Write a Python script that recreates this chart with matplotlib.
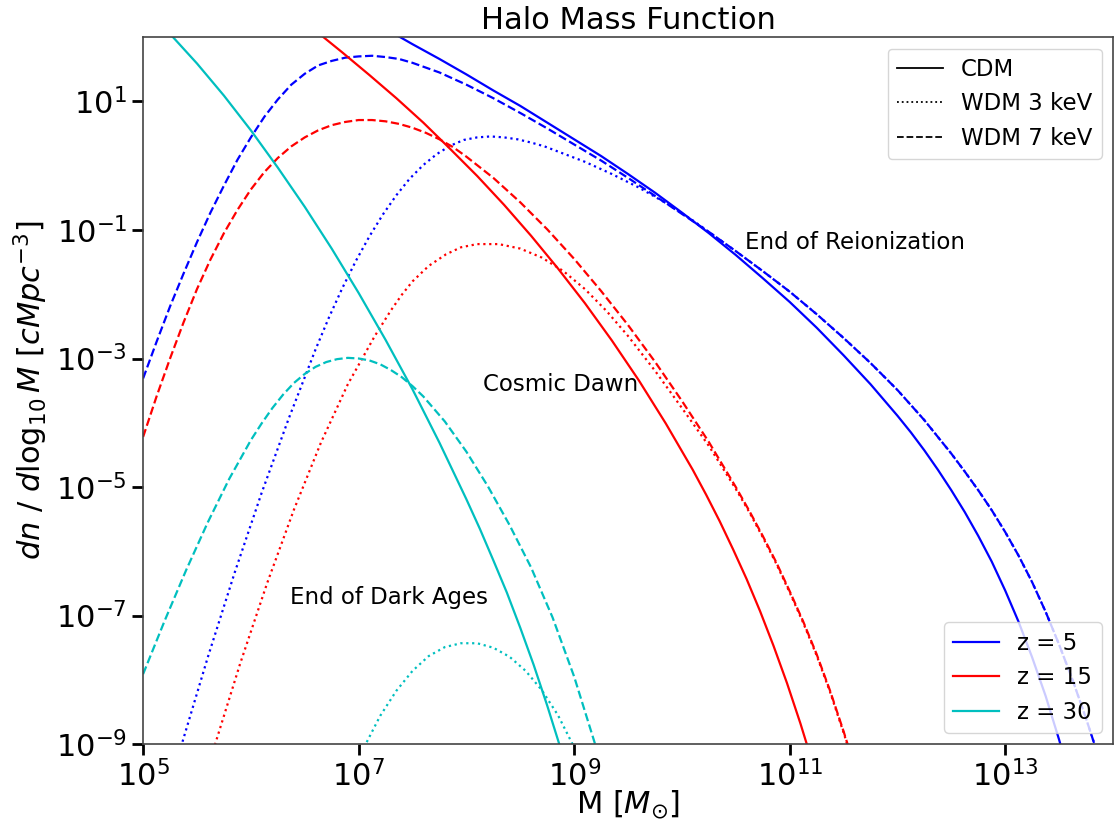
import numpy as np
import matplotlib
matplotlib.use('Agg')
import matplotlib.pyplot as plt
from matplotlib.lines import Line2D

# halo mass function, log10(M / Msun) vs log10(dn/dlog10M / cMpc^-3)

# z = 5
cdm_z5_m = [7.25, 7.5, 7.75, 8.0, 8.25, 8.5, 8.75, 9.0, 9.25, 9.5, 9.75, 10.0, 10.25, 10.5, 10.75,
            11.0, 11.25, 11.5, 11.75, 12.0, 12.125, 12.25, 12.375, 12.5, 12.625, 12.75, 12.875,
            13.0, 13.125, 13.25, 13.375, 13.5, 13.625]
cdm_z5_n = [2.13, 1.89, 1.66, 1.42, 1.17, 0.93, 0.67, 0.41, 0.15, -0.13, -0.42, -0.73, -1.05, -1.39, -1.75,
            -2.12, -2.52, -2.95, -3.40, -3.89, -4.15, -4.43, -4.73, -5.05, -5.39, -5.76, -6.16,
            -6.61, -7.10, -7.65, -8.25, -8.93, -9.67]

w7_z5_m = [5.0, 5.125, 5.25, 5.375, 5.5, 5.625, 5.75, 5.875, 6.0, 6.125, 6.25, 6.375, 6.5, 6.625, 6.75, 6.875,
           7.0, 7.125, 7.25, 7.375, 7.5, 7.75, 8.0, 8.25, 8.5, 8.75, 9.0, 9.25, 9.5, 9.75, 10.0, 10.25, 10.5,
           10.75, 11.0, 11.25, 11.5, 11.75, 12.0, 12.25, 12.5, 12.625, 12.75, 12.875, 13.0, 13.125, 13.25,
           13.375, 13.5, 13.625, 13.75, 13.875]
w7_z5_n = [-3.31, -2.74, -2.19, -1.68, -1.19, -0.73, -0.31, 0.09, 0.44, 0.76, 1.03, 1.26, 1.43, 1.56, 1.63, 1.68,
           1.70, 1.71, 1.69, 1.66, 1.60, 1.45, 1.26, 1.05, 0.82, 0.58, 0.33, 0.08, -0.19, -0.47, -0.75, -1.03, -1.33,
           -1.64, -1.96, -2.31, -2.68, -3.07, -3.49, -3.96, -4.48, -4.76, -5.05, -5.36, -5.70, -6.07, -6.48,
           -6.94, -7.45, -8.00, -8.60, -9.24]

w3_z5_m = [5.35, 5.6, 5.85, 6.1, 6.35, 6.6, 6.725, 6.85, 6.975, 7.1, 7.225, 7.35, 7.475, 7.6, 7.725, 7.85,
           7.975, 8.1, 8.225, 8.35, 8.475, 8.6, 8.725, 8.85, 9.1, 9.35, 9.6, 9.85, 10.1,
           10.25, 10.5, 10.75, 11.0, 11.25, 11.5, 11.75, 12.0, 12.25, 12.5, 12.625, 12.75, 12.875, 13.0,
           13.125, 13.25, 13.375, 13.5, 13.625, 13.75, 13.875]
w3_z5_n = [-9.05, -7.65, -6.33, -5.09, -3.94, -2.86, -2.36, -1.90, -1.48, -1.10, -0.76, -0.46, -0.20, 0.01, 0.18, 0.31,
           0.40, 0.44, 0.455, 0.44, 0.41, 0.36, 0.30, 0.22, 0.06, -0.13, -0.34, -0.58, -0.85,
           -1.03, -1.33, -1.64, -1.96, -2.31, -2.68, -3.07, -3.49, -3.96, -4.48, -4.76, -5.05, -5.36, -5.70,
           -6.07, -6.48, -6.94, -7.45, -8.00, -8.60, -9.24]

# z = 15
cdm_z15_m = [6.6, 6.85, 7.1, 7.35, 7.6, 7.85, 8.1, 8.35, 8.6, 8.85, 9.1, 9.35, 9.6, 9.85, 10.1,
             10.225, 10.35, 10.475, 10.6, 10.725, 10.85, 10.975, 11.1, 11.225, 11.35]
cdm_z15_n = [2.10, 1.76, 1.41, 1.05, 0.67, 0.26, -0.16, -0.61, -1.09, -1.60, -2.14, -2.72, -3.34, -4.01, -4.73,
             -5.12, -5.53, -5.97, -6.43, -6.93, -7.47, -8.05, -8.68, -9.36, -10.08]

w7_z15_m = [5.0, 5.125, 5.25, 5.375, 5.5, 5.625, 5.75, 5.875, 6.0, 6.125, 6.25, 6.375, 6.5, 6.625, 6.75, 6.875,
            7.0, 7.125, 7.25, 7.375, 7.5, 7.625, 7.75, 7.875, 8.0, 8.25, 8.5, 8.75, 9.0, 9.25, 9.5, 9.75,
            10.0, 10.25, 10.5, 10.625, 10.75, 10.875, 11.0, 11.125, 11.25, 11.375, 11.5, 11.625, 11.75]
w7_z15_n = [-4.22, -3.59, -3.00, -2.44, -1.92, -1.46, -1.05, -0.69, -0.37, -0.10, 0.12, 0.30, 0.44, 0.55, 0.63, 0.68,
            0.71, 0.71, 0.69, 0.65, 0.59, 0.51, 0.41, 0.29, 0.14, -0.19, -0.57, -0.99, -1.45, -1.95, -2.48, -3.05,
            -3.66, -4.30, -5.00, -5.37, -5.76, -6.17, -6.62, -7.09, -7.60, -8.17, -8.80, -9.47, -10.2]

w3_z15_m = [5.65, 5.9, 6.15, 6.4, 6.65, 6.9, 7.15, 7.3, 7.4, 7.5, 7.65, 7.81, 7.95, 8.1, 8.3, 8.5, 8.7, 8.9,
            9.1, 9.3, 9.5, 9.75, 10.0, 10.25, 10.5, 10.625, 10.75, 10.875, 11.0, 11.125, 11.25, 11.375,
            11.5, 11.625, 11.75]
w3_z15_n = [-9.1, -7.75, -6.50, -5.35, -4.31, -3.40, -2.65, -2.25, -2.01, -1.80, -1.56, -1.38, -1.27, -1.22, -1.22, -1.29, -1.43, -1.64,
            -1.92, -2.26, -2.65, -3.19, -3.77, -4.36, -5.03, -5.39, -5.78, -6.19, -6.64, -7.11, -7.62, -8.19,
            -8.82, -9.49, -10.22]

# z = 30
cdm_z30_m = [5.25, 5.5, 5.75, 6.0, 6.25, 6.5, 6.75, 7.0, 7.25, 7.5, 7.75, 8.0, 8.125, 8.25, 8.375, 8.5,
             8.625, 8.75, 8.875, 9.0]
cdm_z30_n = [2.05, 1.59, 1.09, 0.55, -0.03, -0.64, -1.29, -1.98, -2.71, -3.48, -4.31, -5.19, -5.65, -6.14, -6.64, -7.19,
             -7.77, -8.40, -9.07, -9.80]

w7_z30_m = [5.0, 5.2, 5.4, 5.6, 5.8, 6.0, 6.1, 6.2, 6.3, 6.4, 6.5, 6.6, 6.7, 6.8, 6.9, 7.0, 7.1, 7.2, 7.3,
            7.4, 7.5, 7.6, 7.8, 8.0, 8.2, 8.4, 8.6, 8.8, 9.0, 9.2, 9.3]
w7_z30_n = [-7.91, -7.08, -6.29, -5.55, -4.87, -4.27, -4.01, -3.77, -3.56, -3.38, -3.24, -3.13, -3.055, -3.01, -2.99, -3.00, -3.03, -3.09, -3.18,
            -3.29, -3.43, -3.59, -3.98, -4.45, -4.99, -5.59, -6.25, -7.03, -7.95, -9.03, -9.6]

w3_z30_m = [7.05, 7.2, 7.35, 7.5, 7.65, 7.8, 7.95, 8.1, 8.25, 8.4, 8.55, 8.7, 8.85, 9.0]
w3_z30_n = [-9.05, -8.56, -8.17, -7.86, -7.63, -7.49, -7.43, -7.43, -7.50, -7.64, -7.86, -8.16, -8.55, -9.05]

redshifts = [5, 15, 30]
colors = ['b', 'r', 'c']
models = ['CDM', 'WDM 3 keV', 'WDM 7 keV']
styles = ['-', ':', '--']

curves = {
    5: [(cdm_z5_m, cdm_z5_n), (w3_z5_m, w3_z5_n), (w7_z5_m, w7_z5_n)],
    15: [(cdm_z15_m, cdm_z15_n), (w3_z15_m, w3_z15_n), (w7_z15_m, w7_z15_n)],
    30: [(cdm_z30_m, cdm_z30_n), (w3_z30_m, w3_z30_n), (w7_z30_m, w7_z30_n)],
}

xticks = [1e5, 1e7, 1e9, 1e11, 1e13]
yticks = [1e-9, 1e-7, 1e-5, 1e-3, 1e-1, 1e1]

fig, ax = plt.subplots(figsize=(11.18, 8.25), dpi=100)
fig.subplots_adjust(left=0.128, right=0.9955, bottom=0.098, top=0.955)

for z, c in zip(redshifts, colors):
    for (m, n), ls in zip(curves[z], styles):
        ax.plot(10**np.array(m), 10**np.array(n), color=c, ls=ls, lw=1.6)

ax.set_xscale('log')
ax.set_yscale('log')
ax.set_xlim(1e5, 1e14)
ax.set_ylim(1e-9, 1e2)
ax.set_xticks(xticks)
ax.set_yticks(yticks)
ax.minorticks_off()
ax.tick_params(labelsize=22, length=8, width=2)
for s in ax.spines.values():
    s.set_color('#444444')
    s.set_linewidth(1.2)

ax.text(10**10.59, 10**-1.30, 'End of Reionization', fontsize=16.5)
ax.text(10**8.157, 10**-3.505, 'Cosmic Dawn', fontsize=16.5)
ax.text(10**6.361, 10**-6.816, 'End of Dark Ages', fontsize=16.5)

ax.set_xlabel(r'M [$M_{\odot}$]', fontsize=22, labelpad=-3)
ax.set_ylabel(r'$dn$ / $d\log_{10}M$ [$cMpc^{-3}$]', fontsize=22)
ax.set_title('Halo Mass Function', fontsize=22)

model_handles = [Line2D([], [], color='k', ls=ls, lw=1.3) for ls in styles]
leg1 = ax.legend(model_handles, models, loc='upper right', fontsize=16.5)
ax.add_artist(leg1)
z_handles = [Line2D([], [], color=c, lw=1.6) for c in colors]
ax.legend(z_handles, ['z = %d' % z for z in redshifts], loc='lower right', fontsize=16.5)

fig.savefig('out.png', dpi=100)
